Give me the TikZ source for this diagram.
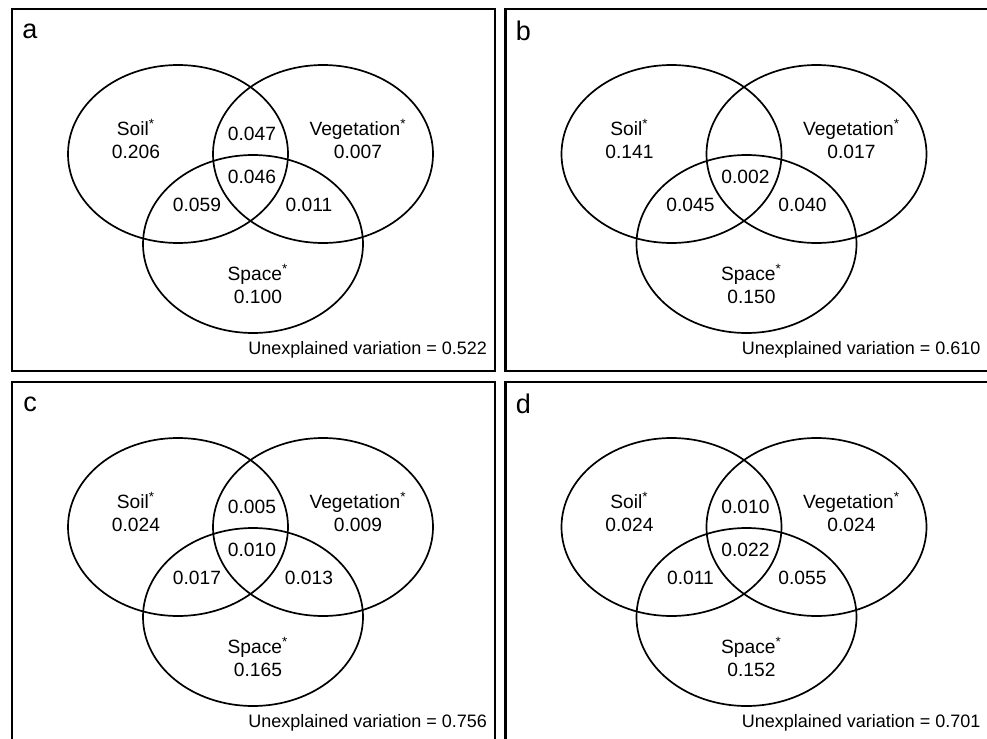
\documentclass[tikz,border=0pt]{standalone}
\usepackage{fontspec}
\setmainfont{Liberation Sans}
\usetikzlibrary{positioning,shapes.geometric}

\begin{document}
\begin{tikzpicture}
[x=0.5pt,y=-0.5pt,
 every node/.style={inner sep=0mm,outer sep=0mm,font=\fontsize{9.6}{11.5}\selectfont},
 set/.style={ellipse,draw=black,line width=0.85pt,minimum width=110pt,minimum height=89pt},
 frame/.style={rectangle,draw=black,line width=1.1pt,minimum width=241.5pt,minimum height=181pt},
 tag/.style={font=\fontsize{13.5}{16}\selectfont},
 part/.style={align=center},
 rest/.style={anchor=east,font=\fontsize{9}{10}\selectfont}]
\useasboundingbox (0,0) rectangle (987,739);
% panel a
\begin{scope}[shift={(12,9)}]
\node[frame] (a-frame) at (241.5,181) {};
\node[tag]   (a-tag)   at (18,22) {a};
\node[set]   (a-soil)  at (166,145) {};
\node[set]   (a-veg)   [on grid,right=72.5pt of a-soil] {};
\node[set]   (a-space) [on grid,below right=45pt and 37.5pt of a-soil] {};
\node[part]  (a-s)     at (124,130) {Soil\textsuperscript{*}\\0.206};
\node[part]  (a-v)     at (346,130) {Vegetation\textsuperscript{*}\\0.007};
\node[part]  (a-p)     at (246,275) {Space\textsuperscript{*}\\0.100};
\node        (a-sv)    at (240,125) {0.047};
\node        (a-svp)   at (240,168) {0.046};
\node        (a-sp)    at (185,196) {0.059};
\node        (a-vp)    at (297,196) {0.011};
\node[rest]  (a-u)     at (475,341) {Unexplained variation = 0.522};
\end{scope}
% panel b
\begin{scope}[shift={(505.5,9)}]
\node[frame] (b-frame) at (241.5,181) {};
\node[tag]   (b-tag)   at (18,22) {b};
\node[set]   (b-soil)  at (166,145) {};
\node[set]   (b-veg)   [on grid,right=72.5pt of b-soil] {};
\node[set]   (b-space) [on grid,below right=45pt and 37.5pt of b-soil] {};
\node[part]  (b-s)     at (124,130) {Soil\textsuperscript{*}\\0.141};
\node[part]  (b-v)     at (346,130) {Vegetation\textsuperscript{*}\\0.017};
\node[part]  (b-p)     at (246,275) {Space\textsuperscript{*}\\0.150};
\node        (b-svp)   at (240,168) {0.002};
\node        (b-sp)    at (185,196) {0.045};
\node        (b-vp)    at (297,196) {0.040};
\node[rest]  (b-u)     at (475,341) {Unexplained variation = 0.610};
\end{scope}
% panel c
\begin{scope}[shift={(12,382)}]
\node[frame] (c-frame) at (241.5,181) {};
\node[tag]   (c-tag)   at (18,22) {c};
\node[set]   (c-soil)  at (166,145) {};
\node[set]   (c-veg)   [on grid,right=72.5pt of c-soil] {};
\node[set]   (c-space) [on grid,below right=45pt and 37.5pt of c-soil] {};
\node[part]  (c-s)     at (124,130) {Soil\textsuperscript{*}\\0.024};
\node[part]  (c-v)     at (346,130) {Vegetation\textsuperscript{*}\\0.009};
\node[part]  (c-p)     at (246,275) {Space\textsuperscript{*}\\0.165};
\node        (c-sv)    at (240,125) {0.005};
\node        (c-svp)   at (240,168) {0.010};
\node        (c-sp)    at (185,196) {0.017};
\node        (c-vp)    at (297,196) {0.013};
\node[rest]  (c-u)     at (475,341) {Unexplained variation = 0.756};
\end{scope}
% panel d
\begin{scope}[shift={(505.5,382)}]
\node[frame] (d-frame) at (241.5,181) {};
\node[tag]   (d-tag)   at (18,22) {d};
\node[set]   (d-soil)  at (166,145) {};
\node[set]   (d-veg)   [on grid,right=72.5pt of d-soil] {};
\node[set]   (d-space) [on grid,below right=45pt and 37.5pt of d-soil] {};
\node[part]  (d-s)     at (124,130) {Soil\textsuperscript{*}\\0.024};
\node[part]  (d-v)     at (346,130) {Vegetation\textsuperscript{*}\\0.024};
\node[part]  (d-p)     at (246,275) {Space\textsuperscript{*}\\0.152};
\node        (d-sv)    at (240,125) {0.010};
\node        (d-svp)   at (240,168) {0.022};
\node        (d-sp)    at (185,196) {0.011};
\node        (d-vp)    at (297,196) {0.055};
\node[rest]  (d-u)     at (475,341) {Unexplained variation = 0.701};
\end{scope}
\end{tikzpicture}
\end{document}
